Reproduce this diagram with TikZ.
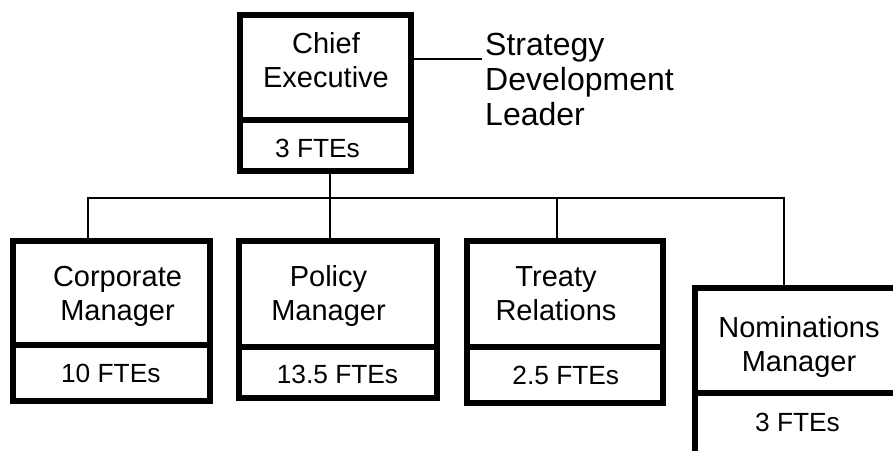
\documentclass[tikz,border=0pt]{standalone}
\usepackage{fontspec}
\setmainfont{Liberation Sans}
\begin{document}
\begin{tikzpicture}[x=1pt,y=-1pt,
  box/.style={draw=black,line width=6pt,rectangle,inner sep=0pt,fill=white},
  link/.style={draw=black,line width=2pt},
  titletext/.style={inner sep=0pt,anchor=base,align=center,font=\fontsize{29}{34}\selectfont},
  ftetext/.style={inner sep=0pt,anchor=base,font=\fontsize{26.3}{31}\selectfont},
  sidetext/.style={anchor=base west,align=left,font=\fontsize{32}{35}\selectfont}]
\useasboundingbox (0,0) rectangle (893,450);
\clip (0,0) rectangle (893,450);

% tie-in level of the branch line
\coordinate (bus) at (0,197.5);

% boxes: title part and staffing part
\node[box,minimum width=171.3pt,minimum height=105.2pt] (ce)  at (325.35,67.1) {};
\node[box,minimum width=171.3pt,minimum height=51.3pt]  (cefte) at (325.35,145.35) {};

\node[box,minimum width=197pt,minimum height=104pt] (corp)    at (111.5,293) {};
\node[box,minimum width=197pt,minimum height=56pt]  (corpfte) at (111.5,373) {};

\node[box,minimum width=198pt,minimum height=106pt]  (pol)    at (337.5,294) {};
\node[box,minimum width=198pt,minimum height=50.5pt] (polfte) at (337.5,372.25) {};

\node[box,minimum width=196pt,minimum height=105.5pt] (tre)    at (565,293.75) {};
\node[box,minimum width=196pt,minimum height=56.5pt]  (trefte) at (565,374.75) {};

\node[box,minimum width=210.5pt,minimum height=105.8pt] (nom)    at (799.75,340.4) {};
\node[box,minimum width=210.5pt,minimum height=76.7pt]  (nomfte) at (799.75,431.65) {};

% texts (base anchor sits on the last line)
\node[titletext] (ceT)   at (326,87)      {Chief\\Executive};
\node[ftetext]   (ceF)   at (317.5,157.3) {3 FTEs};
\node[titletext] (corpT) at (117.5,320)   {Corporate\\Manager};
\node[ftetext]   (corpF) at (110.8,382.3) {10 FTEs};
\node[titletext] (polT)  at (328.5,320)   {Policy\\Manager};
\node[ftetext]   (polF)  at (337.5,383.3) {13.5 FTEs};
\node[titletext] (treT)  at (556,320)     {Treaty\\Relations};
\node[ftetext]   (treF)  at (565.8,384)   {2.5 FTEs};
\node[titletext] (nomT)  at (799,371.7)   {Nominations\\Manager};
\node[ftetext]   (nomF)  at (797.5,431.7) {3 FTEs};
\node[sidetext]  (strat) at (481.7,125.5) {Strategy\\Development\\Leader};

% connectors
\coordinate (corpin) at ([xshift=-23.5pt]corp.north);
\coordinate (polin)  at ([xshift=-7.5pt]pol.north);
\coordinate (trein)  at ([xshift=-7.7pt]tre.north);
\coordinate (nomin)  at ([xshift=-15.75pt]nom.north);
\coordinate (cein)   at ([yshift=7.8pt]ce.east);

\draw[link] (polin |- cefte.south) -- (polin);
\draw[link] (corpin) -- (corpin |- bus) -- (nomin |- bus) -- (nomin);
\draw[link] (trein |- bus) -- (trein);
\draw[link] (cein) -- (cein -| strat.west);
\end{tikzpicture}
\end{document}
